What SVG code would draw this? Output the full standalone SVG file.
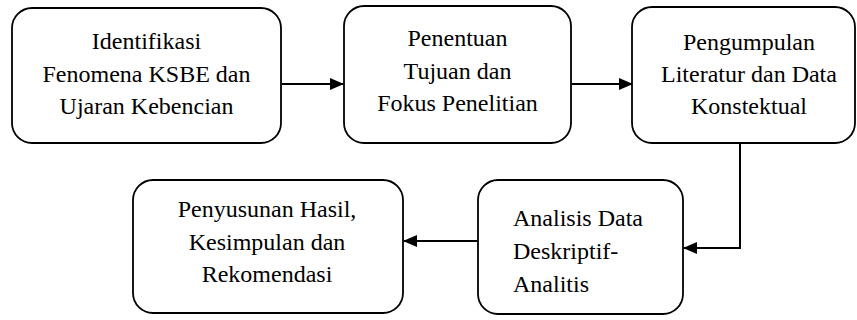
<svg xmlns="http://www.w3.org/2000/svg" width="857" height="320" viewBox="0 0 857 320">
<style>
.box{fill:#fff;stroke:#000;stroke-width:1.8}
.ln{fill:none;stroke:#000;stroke-width:2}
.t{font-family:'Liberation Serif','Times New Roman',serif;font-size:24px;fill:#000}
.c{text-anchor:middle}
</style>
<defs>
<marker id="ah" markerWidth="14" markerHeight="12" refX="13" refY="6" orient="auto" markerUnits="userSpaceOnUse">
<path d="M0,0 L14,6 L0,12 Z" fill="#000"/>
</marker>
</defs>
<rect width="857" height="320" fill="#fff"/>
<g id="connectors">
<line class="ln" x1="282" y1="84" x2="343" y2="84" marker-end="url(#ah)"/>
<line class="ln" x1="572" y1="84" x2="632" y2="84" marker-end="url(#ah)"/>
<polyline class="ln" points="740,144 740,248 684,248" marker-end="url(#ah)"/>
<line class="ln" x1="478" y1="241" x2="404" y2="241" marker-end="url(#ah)"/>
</g>
<g id="n1">
<rect class="box" x="12" y="8" width="269" height="135" rx="20"/>
<text class="t c" x="146.5" y="49">Identifikasi</text>
<text class="t c" x="146.5" y="82">Fenomena KSBE dan</text>
<text class="t c" x="146.5" y="114">Ujaran Kebencian</text>
</g>
<g id="n2">
<rect class="box" x="344" y="6" width="227" height="137" rx="20"/>
<text class="t c" x="457.5" y="46">Penentuan</text>
<text class="t c" x="457.5" y="79">Tujuan dan</text>
<text class="t c" x="457.5" y="111">Fokus Penelitian</text>
</g>
<g id="n3">
<rect class="box" x="632" y="7" width="223" height="136" rx="20"/>
<text class="t c" x="749" y="50">Pengumpulan</text>
<text class="t c" x="749" y="82">Literatur dan Data</text>
<text class="t c" x="749" y="114">Konstektual</text>
</g>
<g id="n4">
<rect class="box" x="478" y="180" width="205" height="134" rx="20"/>
<text class="t" x="513" y="226">Analisis Data</text>
<text class="t" x="513" y="259">Deskriptif-</text>
<text class="t" x="513" y="292">Analitis</text>
</g>
<g id="n5">
<rect class="box" x="133" y="180" width="270" height="133" rx="20"/>
<text class="t c" x="267" y="217">Penyusunan Hasil,</text>
<text class="t c" x="267" y="250">Kesimpulan dan</text>
<text class="t c" x="267" y="282">Rekomendasi</text>
</g>
</svg>
